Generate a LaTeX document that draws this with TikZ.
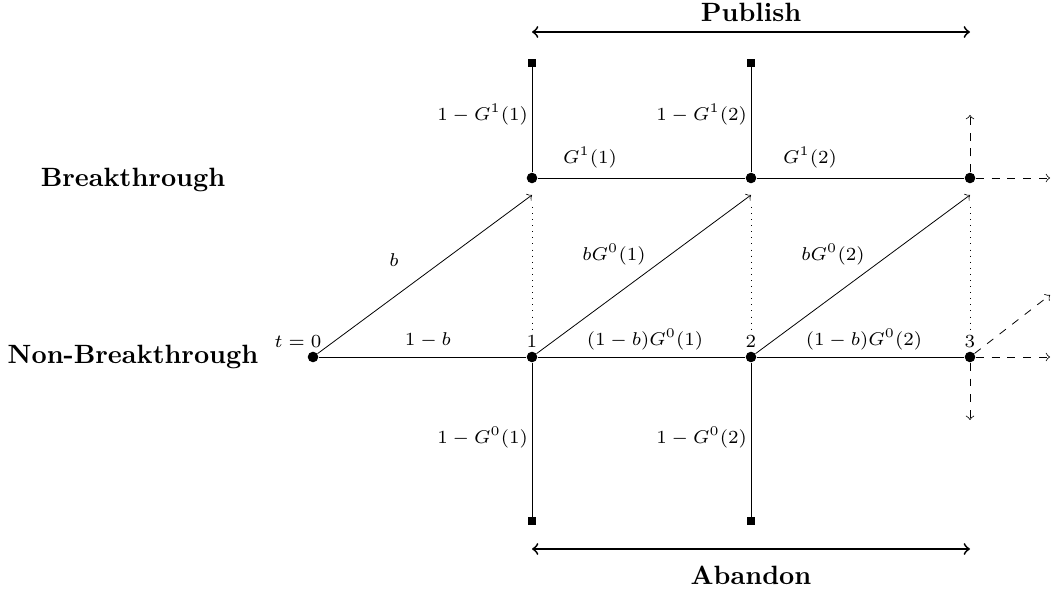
\documentclass[tikz,border=0pt]{standalone}
\usetikzlibrary{arrows}
\begin{document}
\begin{tikzpicture}[x=0.378pt,y=-0.378pt,line width=0.3pt,
  dot/.style={circle,fill=black,inner sep=0pt,minimum size=4pt},
  sq/.style={rectangle,fill=black,inner sep=0pt,minimum size=3pt},
  lab/.style={font=\scriptsize,inner sep=1pt},
  big/.style={font=\bfseries,inner sep=1pt},
  free/.style={dashed,->}]
\useasboundingbox (0,0) rectangle (1051,592);
% nodes
\node[dot] (n0) at (313,357) {};
\node[dot] (n1) at (532,357) {};
\node[dot] (n2) at (751,357) {};
\node[dot] (n3) at (970,357) {};
\node[dot] (b1) at (532,178) {};
\node[dot] (b2) at (751,178) {};
\node[dot] (b3) at (970,178) {};
\coordinate (c1) at (532,195);
\coordinate (c2) at (751,195);
\coordinate (c3) at (970,195);
\coordinate (d1) at (532,207);
\coordinate (d2) at (751,207);
\coordinate (d3) at (970,207);
\node[sq] (p1) at (532,63) {};
\node[sq] (p2) at (751,63) {};
\node[sq] (a1) at (532,521) {};
\node[sq] (a2) at (751,521) {};
\coordinate (e1) at (1050,178);
\coordinate (e2) at (970,115);
\coordinate (e3) at (1050,357);
\coordinate (e4) at (1050,295);
\coordinate (e5) at (970,420);
\coordinate (pl) at (532,32);
\coordinate (pr) at (970,32);
\coordinate (al) at (532,549);
\coordinate (ar) at (970,549);
% side labels
\node[big] (lbB) at (133,180) {Breakthrough};
\node[big] (lbN) at (133,357) {Non-Breakthrough};
\node[big] (lbP) at (751,12) {Publish};
\node[big] (lbA) at (751,575) {Abandon};
% time labels
\node[lab] (t0) at (298,342) {$t=0$};
\node[lab] (t1) at (532,342) {$1$};
\node[lab] (t2) at (751,342) {$2$};
\node[lab] (t3) at (970,342) {$3$};
% lines
\draw (n0) -- (n1) -- (n2) -- (n3);
\draw (b1) -- (b2) -- (b3);
\draw[->] (n0) -- (c1);
\draw[->] (n1) -- (c2);
\draw[->] (n2) -- (c3);
\draw (b1) -- (p1);
\draw (b2) -- (p2);
\draw (n1) -- (a1);
\draw (n2) -- (a2);
\draw[dotted] (d1) -- (t1);
\draw[dotted] (d2) -- (t2);
\draw[dotted] (d3) -- (t3);
\draw[free] (b3) -- (e1);
\draw[free] (b3) -- (e2);
\draw[free] (n3) -- (e3);
\draw[free] (n3) -- (e4);
\draw[free] (n3) -- (e5);
\draw[line width=0.7pt,<->] (pl) -- (pr);
\draw[line width=0.7pt,<->] (al) -- (ar);
% edge labels
\node[lab] (lb) at (394,260) {$b$};
\node[lab] (lbg1) at (614,255) {$bG^0(1)$};
\node[lab] (lbg2) at (833,255) {$bG^0(2)$};
\node[lab] (l1b) at (428,340) {$1-b$};
\node[lab] (l1bg1) at (645,340) {$(1-b)G^0(1)$};
\node[lab] (l1bg2) at (864,340) {$(1-b)G^0(2)$};
\node[lab] (lg11) at (590,158) {$G^1(1)$};
\node[lab] (lg12) at (810,158) {$G^1(2)$};
\node[lab,anchor=east] (lp1) at (531,115) {$1-G^1(1)$};
\node[lab,anchor=east] (lp2) at (750,115) {$1-G^1(2)$};
\node[lab,anchor=east] (la1) at (531,438) {$1-G^0(1)$};
\node[lab,anchor=east] (la2) at (750,438) {$1-G^0(2)$};
\end{tikzpicture}
\end{document}
